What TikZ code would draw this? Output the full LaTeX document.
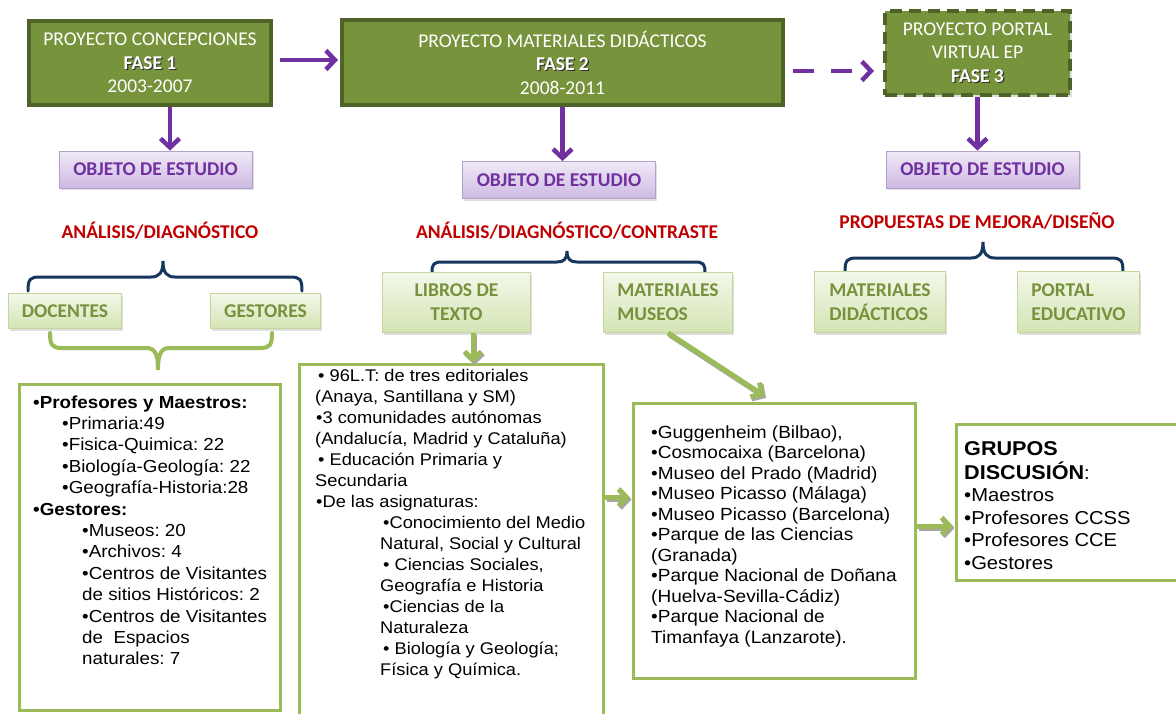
\documentclass[tikz,border=0pt]{standalone}
\usepackage{fontspec}
\setmainfont{Carlito}
\newfontfamily\arialfont[FakeStretch=1.08]{Liberation Sans}
\usetikzlibrary{arrows.meta,shadows,calc}

\definecolor{phasefill}{HTML}{77933C}
\definecolor{phaseline}{HTML}{4F6228}
\definecolor{arrowpurple}{HTML}{7030A0}
\definecolor{objtop}{HTML}{F0EAF7}
\definecolor{objbot}{HTML}{CDB9E2}
\definecolor{objline}{HTML}{B29FCB}
\definecolor{headred}{HTML}{C00000}
\definecolor{bracenavy}{HTML}{17375E}
\definecolor{topictop}{HTML}{F3F8EA}
\definecolor{topicbot}{HTML}{D4E4B4}
\definecolor{topicline}{HTML}{C3D69B}
\definecolor{topictext}{HTML}{76923C}
\definecolor{listline}{HTML}{9BBB59}

% text with a small dark drop shadow
\newcommand\shtxt[1]{\leavevmode\rlap{\kern1.2pt\raisebox{-1.2pt}{\textcolor{black!80}{#1}}}#1}

\tikzset{
  phase/.style={draw=phaseline, line width=4pt, fill=phasefill, text=white,
    align=center, font=\fontsize{19.5}{23.5}\selectfont, inner sep=0pt,
    drop shadow={shadow xshift=2pt, shadow yshift=-2pt, opacity=0.25}},
  objbox/.style={draw=objline, line width=0.8pt, top color=objtop, bottom color=objbot,
    text=arrowpurple, font=\bfseries\fontsize{19.5}{22}\selectfont,
    minimum width=193pt, minimum height=37pt, inner sep=0pt,
    drop shadow={shadow xshift=1.5pt, shadow yshift=-2pt, opacity=0.25}},
  heading/.style={text=headred, font=\bfseries\fontsize{19.5}{22}\selectfont, inner sep=0pt},
  topic/.style={draw=topicline, line width=0.8pt, top color=topictop, bottom color=topicbot,
    text=topictext, font=\bfseries\fontsize{19.5}{24}\selectfont, inner sep=0pt,
    drop shadow={shadow xshift=1.5pt, shadow yshift=-2pt, opacity=0.25}},
  listbox/.style={draw=listline, line width=3pt, fill=white, inner sep=0pt},
  listtext/.style={anchor=base west, inner sep=0pt, text=black},
  parrow/.style={draw=arrowpurple, line width=4.5pt, -{Straight Barb[length=9pt,width=19pt]}},
  garrow/.style={draw=listline, line width=5pt, -{Straight Barb[length=8pt,width=17pt]}},
  gshade/.style={draw=black!35, line width=5pt, -{Straight Barb[length=8pt,width=17pt]},
    transform canvas={xshift=1.5pt, yshift=-2pt}},
  navybrace/.style={draw=bracenavy, line width=3pt, line cap=round},
  greenbrace/.style={draw=listline, line width=4pt, line cap=round},
}

\begin{document}
\frenchspacing
\begin{tikzpicture}[x=1pt, y=-1pt]
\useasboundingbox (0,0) rectangle (1176,713);
\fill[white] (0,0) rectangle (1176,713);

% ---- project phases
\node[phase, minimum width=242pt, minimum height=84pt] (ph1) at (150,63)
  {PROYECTO CONCEPCIONES\\ \shtxt{\textbf{FASE 1}}\\ 2003-2007};
\node[phase, minimum width=441pt, minimum height=85pt] (ph2) at (562.5,62.5)
  {PROYECTO MATERIALES DIDÁCTICOS\\ \shtxt{\textbf{FASE 2}}\\ 2008-2011};
\node[phase, dash pattern=on 12pt off 7pt, minimum width=185pt, minimum height=84pt] (ph3) at (977.5,53)
  {PROYECTO PORTAL\\ VIRTUAL EP\\ \shtxt{\textbf{FASE 3}}};

% ---- objects of study
\node[objbox] (ob1) at (155.5,169.5) {OBJETO DE ESTUDIO};
\node[objbox] (ob2) at (559,180) {OBJETO DE ESTUDIO};
\node[objbox] (ob3) at (982.5,169.5) {OBJETO DE ESTUDIO};

% ---- purple connectors
\draw[parrow, shorten <=7pt, shorten >=2pt] (ph1.east |- 0,60) coordinate (p12a) -- (p12a -| ph2.west);
\coordinate (p23) at ([yshift=-8.5pt]ph2.east);
\draw[parrow, dash pattern=on 21pt off 17pt, shorten <=8pt, shorten >=9pt] (p23) -- (p23 -| ph3.west);
\coordinate (p1d) at ([xshift=20pt]ph1.south);
\draw[parrow] (p1d) -- (p1d |- ob1.north);
\draw[parrow] (ph2.south) -- (ph2.south |- ob2.north);
\draw[parrow] (ph3.south) -- (ph3.south |- ob3.north);

% ---- headings
\node[heading] (hd1) at (160,231) {ANÁLISIS/DIAGNÓSTICO};
\node[heading] (hd2) at (567,231) {ANÁLISIS/DIAGNÓSTICO/CONTRASTE};
\node[heading] (hd3) at (977,221) {PROPUESTAS DE MEJORA/DISEÑO};

% ---- braces
\draw[navybrace] (28,291) .. controls (28,279) and (30,277) .. (40,277) -- (151,277)
  .. controls (159,277) and (163,273) .. (163,261) .. controls (163,273) and (167,277) .. (175,277)
  -- (290,277) .. controls (300,277) and (302,279) .. (302,291);
\draw[navybrace] (432,272) .. controls (432,264) and (434,262) .. (442,262) -- (557,262)
  .. controls (564,262) and (567,259) .. (567,251) .. controls (567,259) and (570,262) .. (577,262)
  -- (695,262) .. controls (703,262) and (705,264) .. (705,272);
\draw[navybrace] (845,272) .. controls (845,260) and (847,258) .. (857,258) -- (971,258)
  .. controls (979,258) and (983,254) .. (983,242) .. controls (983,254) and (987,258) .. (995,258)
  -- (1111,258) .. controls (1121,258) and (1123,260) .. (1123,272);

% ---- topics
\node[topic, minimum width=113pt, minimum height=35pt] (doc) at (65,311) {DOCENTES};
\node[topic, minimum width=110pt, minimum height=35pt] (ges) at (265.5,311) {GESTORES};
\node[topic, align=center, minimum width=148pt, minimum height=60pt] (lib) at (456.5,302.5) {LIBROS DE\\TEXTO};
\node[topic, align=left, minimum width=129pt, minimum height=60pt] (mus) at (668,302.5) {MATERIALES\\MUSEOS};
\node[topic, align=left, minimum width=131pt, minimum height=61pt] (mat) at (880,302) {MATERIALES\\DIDÁCTICOS};
\node[topic, align=left, minimum width=122pt, minimum height=61pt] (por) at (1078.5,302) {PORTAL\\EDUCATIVO};

\draw[greenbrace] (50,333) .. controls (50,345) and (52,348) .. (62,348) -- (146,348)
  .. controls (154,348) and (158,352) .. (158,370) .. controls (158,352) and (162,348) .. (170,348)
  -- (260,348) .. controls (270,348) and (272,345) .. (272,333);

% ---- detail boxes
\node[listbox, minimum width=261pt, minimum height=326pt] (boxA) at (150,547.5) {};
\node[listbox, minimum width=304pt, minimum height=358pt] (boxB) at (451.5,543.5) {};
\node[listbox, minimum width=282pt, minimum height=275pt] (boxC) at (774.5,541) {};
\node[listbox, minimum width=232pt, minimum height=156pt] (boxD) at (1072.5,502.5) {};

\node[listtext] (txA) at (33,408) {\vtop{\hsize=250pt\parindent=0pt\arialfont\fontsize{17.4}{21.4}\selectfont
  \textbf{•Profesores y Maestros:}\par
  \hspace*{29pt}•Primaria:49\par
  \hspace*{29pt}•Fisica-Quimica: 22\par
  \hspace*{29pt}•Biología-Geología: 22\par
  \hspace*{29pt}•Geografía-Historia:28\par
  \textbf{•Gestores:}\par
  \hspace*{49pt}•Museos: 20\par
  \hspace*{49pt}•Archivos: 4\par
  \hspace*{49pt}•Centros de Visitantes\par
  \hspace*{49pt}de sitios Históricos: 2\par
  \hspace*{49pt}•Centros de Visitantes\par
  \hspace*{49pt}de\ \ Espacios\par
  \hspace*{49pt}naturales: 7\par}};

\node[listtext] (txB) at (315,381) {\vtop{\hsize=285pt\parindent=0pt\arialfont\fontsize{16.9}{21}\selectfont
  \hspace*{3pt}• 96L.T: de tres editoriales\par
  (Anaya, Santillana y SM)\par
  \hspace*{1pt}•3 comunidades autónomas\par
  (Andalucía, Madrid y Cataluña)\par
  \hspace*{3pt}• Educación Primaria y\par
  Secundaria\par
  \hspace*{1pt}•De las asignaturas:\par
  \hspace*{68pt}•Conocimiento del Medio\par
  \hspace*{65pt}Natural, Social y Cultural\par
  \hspace*{68pt}• Ciencias Sociales,\par
  \hspace*{65pt}Geografía e Historia\par
  \hspace*{68pt}•Ciencias de la\par
  \hspace*{65pt}Naturaleza\par
  \hspace*{68pt}• Biología y Geología;\par
  \hspace*{65pt}Física y Química.\par}};

\node[listtext] (txC) at (651,438) {\vtop{\hsize=260pt\parindent=0pt\arialfont\fontsize{17.6}{20.5}\selectfont
  •Guggenheim (Bilbao),\par
  •Cosmocaixa (Barcelona)\par
  •Museo del Prado (Madrid)\par
  •Museo Picasso (Málaga)\par
  •Museo Picasso (Barcelona)\par
  •Parque de las Ciencias\par
  (Granada)\par
  •Parque Nacional de Doñana\par
  (Huelva-Sevilla-Cádiz)\par
  •Parque Nacional de\par
  Timanfaya (Lanzarote).\par}};

\node[listtext] (txD1) at (964,455) {\vtop{\hsize=200pt\parindent=0pt\arialfont\fontsize{20}{24}\selectfont
  \textbf{GRUPOS}\par
  \textbf{DISCUSIÓN}{\fontsize{18.7}{20}\selectfont:}\par}};
\node[listtext] (txD2) at (964,501.5) {\vtop{\hsize=200pt\parindent=0pt\arialfont\fontsize{18.7}{22.5}\selectfont
  •Maestros\par
  •Profesores CCSS\par
  •Profesores CCE\par
  •Gestores\par}};

% ---- green connectors
\coordinate (libout) at ([xshift=16.5pt]lib.south);
\coordinate (cin) at ([xshift=-10pt, yshift=6pt]boxC.north);
\coordinate (bout) at ([yshift=46pt]boxB.east);
\coordinate (cout) at ([yshift=15pt]boxC.east);
\draw[gshade] (libout) -- (libout |- boxB.north);
\draw[gshade] (mus.south) -- (cin);
\draw[gshade, shorten >=2pt] (bout) -- (bout -| boxC.west);
\draw[gshade, shorten >=2pt] (cout) -- (cout -| boxD.west);
\draw[garrow] (libout) -- (libout |- boxB.north);
\draw[garrow] (mus.south) -- (cin);
\draw[garrow, shorten >=2pt] (bout) -- (bout -| boxC.west);
\draw[garrow, shorten >=2pt] (cout) -- (cout -| boxD.west);
\end{tikzpicture}
\end{document}
